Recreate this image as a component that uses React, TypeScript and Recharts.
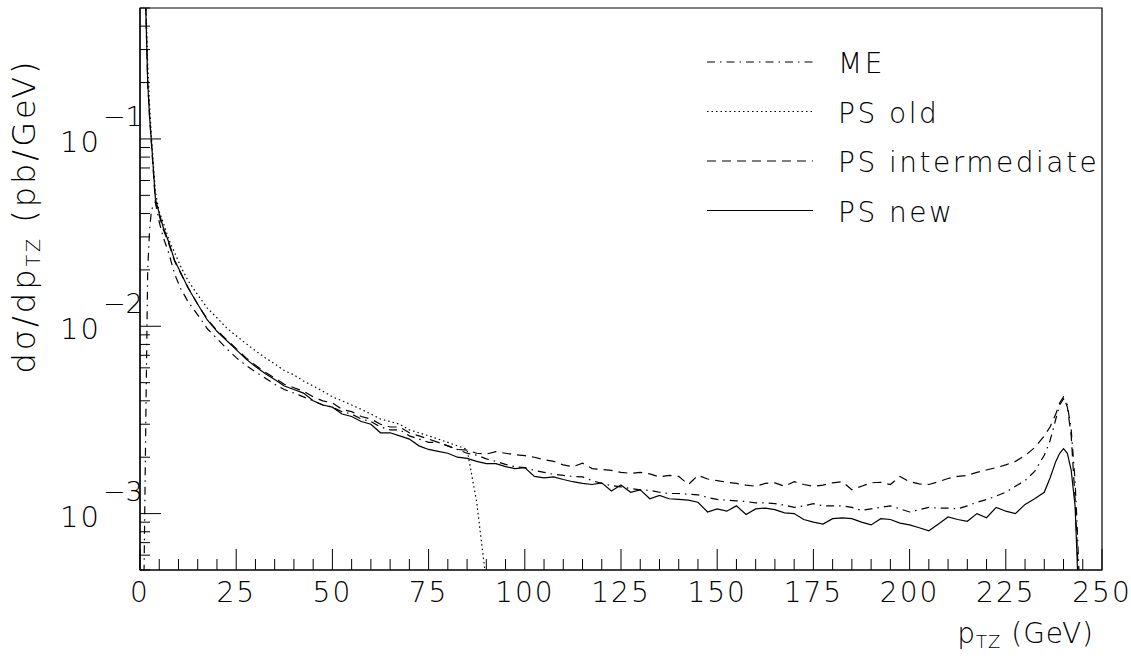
import { LineChart, Line, XAxis, YAxis, ReferenceArea, Legend } from 'recharts'

// ─── data ───────────────────────────────────────────────────────────────────

// p_TZ bin positions (GeV)
const XS = [
  0.5, 1, 1.5, 2, 2.5, 3, 4, 5, 6, 7.5, 9, 10.5,
  12.5, 15, 17.5, 20, 22.5, 25, 27.5, 30, 32.5, 35,
  37.5, 40, 42.5, 45, 47.5, 50, 52.5, 55, 57.5, 60,
  62.5, 65, 67.5, 70, 72.5, 75, 77.5, 80, 82.5, 85,
  87.5, 90, 92.5, 95, 97.5, 100, 102.5, 105, 107.5, 110,
  112.5, 115, 117.5, 120, 122.5, 125, 127.5, 130, 132.5, 135,
  137.5, 140, 142.5, 145, 147.5, 150, 152.5, 155, 157.5, 160,
  162.5, 165, 167.5, 170, 172.5, 175, 177.5, 180, 182.5, 185,
  187.5, 190, 192.5, 195, 197.5, 200, 202.5, 205, 207.5, 210,
  212.5, 215, 217.5, 220, 222.5, 225, 227.5, 230, 232.5, 235,
  236.5, 238, 239, 240, 241, 242, 243, 243.5, 244, 245,
]

const ME = [
  0.0003, 0.0004, 0.003, 0.02, 0.033, 0.042, 0.046, 0.036, 0.03, 0.0245, 0.019, 0.016,
  0.0135, 0.0115, 0.0097, 0.0086, 0.0076, 0.0068, 0.0062, 0.0057, 0.0053, 0.0049,
  0.0046, 0.0044, 0.0042, 0.004, 0.0038, 0.0037, 0.0035, 0.0034, 0.0032, 0.0031,
  0.0029, 0.0028, 0.0028, 0.0026, 0.0025, 0.0024, 0.0024, 0.0023, 0.0022, 0.0021,
  0.00205, 0.00196, 0.0019, 0.00183, 0.00178, 0.00176, 0.0017, 0.00166, 0.00162, 0.0016,
  0.00158, 0.00157, 0.0015, 0.00145, 0.00141, 0.00139, 0.00136, 0.00134, 0.00133, 0.0013,
  0.00128, 0.00128, 0.00127, 0.00126, 0.00122, 0.00119, 0.00118, 0.00117, 0.00116, 0.00114,
  0.00114, 0.00113, 0.00111, 0.00108, 0.0011, 0.00113, 0.0011, 0.0011, 0.0011, 0.00108,
  0.00104, 0.00106, 0.00108, 0.0011, 0.00106, 0.00102, 0.00105, 0.00108, 0.00107, 0.00107,
  0.00106, 0.0011, 0.00115, 0.00119, 0.00124, 0.0013, 0.0014, 0.0015, 0.00168, 0.00205,
  0.00245, 0.0032, 0.0038, 0.0041, 0.0038, 0.0028, 0.0015, 0.0009, 0.0005, 0.0002,
]

// PS old stops at ~90 GeV
const PS_OLD = [
  0.9, 0.7, 0.55, 0.25, 0.15, 0.1, 0.052, 0.041, 0.036, 0.029, 0.0247, 0.021,
  0.0175, 0.0147, 0.0125, 0.0111, 0.0098, 0.0089, 0.0081, 0.0074, 0.0068, 0.0063,
  0.0058, 0.0055, 0.0051, 0.0048, 0.0045, 0.0042, 0.004, 0.0038, 0.0036, 0.0034,
  0.0032, 0.0031, 0.003, 0.0028, 0.0027, 0.0026, 0.0025, 0.0024, 0.0023, 0.0022,
  0.00115, 0.00043,
]

const PS_INT = [
  0.9, 0.7, 0.5, 0.2, 0.13, 0.092, 0.046, 0.039, 0.033, 0.0275, 0.0222, 0.0193,
  0.0161, 0.0131, 0.0109, 0.0095, 0.0085, 0.0076, 0.0068, 0.0062, 0.0057, 0.0053,
  0.0049, 0.0047, 0.0045, 0.0042, 0.004, 0.0039, 0.0036, 0.0035, 0.0033, 0.0032,
  0.003, 0.0029, 0.0029, 0.0027, 0.0026, 0.0025, 0.0024, 0.0023, 0.0022, 0.00218,
  0.0021, 0.00208, 0.00214, 0.0021, 0.00206, 0.00204, 0.002, 0.00194, 0.0019, 0.00182,
  0.00178, 0.00186, 0.00174, 0.00172, 0.0017, 0.00166, 0.00164, 0.00166, 0.00163, 0.00157,
  0.0016, 0.00158, 0.00143, 0.0016, 0.00153, 0.0015, 0.00147, 0.00145, 0.00142, 0.0014,
  0.00145, 0.00146, 0.0014, 0.00148, 0.00143, 0.0014, 0.00142, 0.00146, 0.00148, 0.00134,
  0.0014, 0.00146, 0.00147, 0.00143, 0.00158, 0.00148, 0.00144, 0.00143, 0.00148, 0.00154,
  0.00158, 0.0016, 0.00166, 0.00171, 0.00176, 0.00182, 0.0019, 0.00204, 0.00225, 0.0026,
  0.0029, 0.0034, 0.0039, 0.0042, 0.0037, 0.0026, 0.0012, 0.0007, 0.0004, 0.0002,
]

const PS_NEW = [
  0.9, 0.7, 0.5, 0.2, 0.13, 0.095, 0.048, 0.04, 0.034, 0.028, 0.0225, 0.0195,
  0.016, 0.0131, 0.0108, 0.0094, 0.0084, 0.0075, 0.0067, 0.0061, 0.0056, 0.0052,
  0.0048, 0.0046, 0.0044, 0.004, 0.0038, 0.0037, 0.0034, 0.0033, 0.0031, 0.003,
  0.0027, 0.0027, 0.0026, 0.0025, 0.0023, 0.0022, 0.00215, 0.0021, 0.002, 0.00197,
  0.0019, 0.00185, 0.00185, 0.00178, 0.00174, 0.00176, 0.00158, 0.00155, 0.00157, 0.00152,
  0.00148, 0.00145, 0.00143, 0.00146, 0.00132, 0.00142, 0.0013, 0.00134, 0.0012, 0.00125,
  0.0012, 0.00119, 0.00118, 0.00115, 0.00102, 0.00106, 0.00103, 0.0011, 0.00099, 0.00106,
  0.00107, 0.00105, 0.00101, 0.001, 0.00093, 0.0009, 0.00088, 0.00094, 0.00095, 0.00094,
  0.0009, 0.00087, 0.00094, 0.00093, 0.00089, 0.00087, 0.00084, 0.00081, 0.00088, 0.00096,
  0.00093, 0.00091, 0.001, 0.00095, 0.00108, 0.00103, 0.001, 0.00112, 0.0012, 0.0013,
  0.00155, 0.0019, 0.0021, 0.00222, 0.0021, 0.0017, 0.0011, 0.0006, 0.0003, 0.0002,
]

// ticks: majors every 25 GeV, minors every 5
const X_TICKS = [
  0, 5, 10, 15, 20, 25, 30, 35, 40, 45, 50, 55, 60, 65, 70, 75, 80, 85, 90, 95,
  100, 105, 110, 115, 120, 125, 130, 135, 140, 145, 150, 155, 160, 165, 170, 175,
  180, 185, 190, 195, 200, 205, 210, 215, 220, 225, 230, 235, 240, 245, 250,
]
const X_LABELS = [0, 25, 50, 75, 100, 125, 150, 175, 200, 225, 250]

const Y_TICKS = [
  0.0005, 0.0006, 0.0007, 0.0008, 0.0009,
  0.001, 0.002, 0.003, 0.004, 0.005, 0.006, 0.007, 0.008, 0.009,
  0.01, 0.02, 0.03, 0.04, 0.05, 0.06, 0.07, 0.08, 0.09,
  0.1, 0.2, 0.3, 0.4, 0.5,
]
const Y_LABELS = [0.001, 0.01, 0.1]

const SERIES = [
  { key: 'me', label: 'ME', dash: '8 5 1.5 5' },
  { key: 'old', label: 'PS old', dash: '1.5 3' },
  { key: 'inter', label: 'PS intermediate', dash: '9 6' },
  { key: 'nu', label: 'PS new', dash: undefined },
]

const rows = XS.map((x, i) => ({
  x,
  me: ME[i],
  old: PS_OLD[i] ?? null,
  inter: PS_INT[i],
  nu: PS_NEW[i],
}))

const FONT = "'DejaVu Sans', sans-serif"

// ─── ticks drawn inside the frame, PAW style ───────────────────────────────

function XTick({ x, y, payload }: any) {
  const v = payload.value
  const major = X_LABELS.includes(v)
  return (
    <g>
      <line x1={x} x2={x} y1={y} y2={y - (major ? 21 : 11)} stroke="#000" strokeWidth={1} />
      {major && (
        <text
          x={x}
          y={y + 32}
          textAnchor="middle"
          fontSize={28}
          letterSpacing={2}
          fontFamily={FONT}
          fontWeight={200}
          fill="#000"
        >
          {v}
        </text>
      )}
    </g>
  )
}

function YTick({ x, y, payload }: any) {
  const v = payload.value
  const major = Y_LABELS.some((m) => Math.abs(m - v) < 1e-9)
  const exp = Math.round(Math.log10(v))
  return (
    <g>
      <line x1={x} x2={x + (major ? 21 : 10)} y1={y} y2={y} stroke="#000" strokeWidth={1} />
      {major && (
        <text fontFamily={FONT} fontWeight={200} fill="#000">
          <tspan x={x - 39} y={y + 13} textAnchor="end" fontSize={29} letterSpacing={2}>10</tspan>
          <tspan x={x - 37} y={y - 13} textAnchor="start" fontSize={27}>{'\u2212' + Math.abs(exp)}</tspan>
        </text>
      )}
    </g>
  )
}

function LegendBox() {
  return (
    <svg width={431} height={210}>
      {SERIES.map((s, i) => {
        const cy = 27 + i * 49.5
        return (
          <g key={s.key}>
            <line x1={7} x2={113} y1={cy} y2={cy} stroke="#000" strokeWidth={1.2} strokeDasharray={s.dash} />
            <text
              x={138}
              y={cy + 11}
              fontSize={28}
              letterSpacing={2.5}
              fontFamily={FONT}
              fontWeight={200}
              fill="#000"
            >
              {s.label}
            </text>
          </g>
        )
      })}
    </svg>
  )
}

export default function App() {
  return (
    <div style={{ position: 'absolute', left: 0, top: 0, width: 1131, height: 656, background: '#fff' }}>
      <LineChart width={1131} height={656} data={rows} margin={{ top: 8, right: 29, bottom: 56, left: 80 }}>
        <XAxis
          type="number"
          dataKey="x"
          domain={[0, 250]}
          ticks={X_TICKS}
          interval={0}
          allowDataOverflow
          height={30}
          tickSize={0}
          tickMargin={0}
          tickLine={false}
          axisLine={{ stroke: '#000', strokeWidth: 1.2 }}
          tick={<XTick />}
        />
        <YAxis
          scale="log"
          domain={[0.0005, 0.5]}
          ticks={Y_TICKS}
          interval={0}
          allowDataOverflow
          width={60}
          tickSize={0}
          tickMargin={0}
          tickLine={false}
          axisLine={{ stroke: '#000', strokeWidth: 1.2 }}
          tick={<YTick />}
        />
        <ReferenceArea x1={0} x2={250} y1={0.0005} y2={0.5} fill="none" stroke="#000" strokeWidth={1.2} ifOverflow="visible" />
        {SERIES.map((s) => (
          <Line
            key={s.key}
            type="linear"
            dataKey={s.key}
            stroke="#000"
            strokeWidth={1.2}
            strokeDasharray={s.dash}
            dot={false}
            activeDot={false}
            isAnimationActive={false}
          />
        ))}
        <Legend
          layout="horizontal"
          verticalAlign="middle"
          align="center"
          content={<LegendBox />}
          wrapperStyle={{ position: 'absolute', left: 700, top: 35, width: 431, height: 210 }}
        />
      </LineChart>
      {/* axis titles */}
      <svg width={1131} height={656} style={{ position: 'absolute', left: 0, top: 0, pointerEvents: 'none' }}>
        <text
          transform="translate(35 216) rotate(-90)"
          textAnchor="middle"
          fontSize={32}
          letterSpacing={3}
          fontFamily={FONT}
          fontWeight={200}
          fill="#000"
        >
          dσ/dp
          <tspan fontSize={19} dy={5}>TZ</tspan>
          <tspan dy={-5}> (pb/GeV)</tspan>
        </text>
        <text
          x={1094}
          y={643}
          textAnchor="end"
          fontSize={28}
          letterSpacing={1}
          fontFamily={FONT}
          fontWeight={200}
          fill="#000"
        >
          p<tspan fontSize={18} dy={5}>TZ</tspan>
          <tspan dy={-5}> (GeV)</tspan>
        </text>
      </svg>
    </div>
  )
}
